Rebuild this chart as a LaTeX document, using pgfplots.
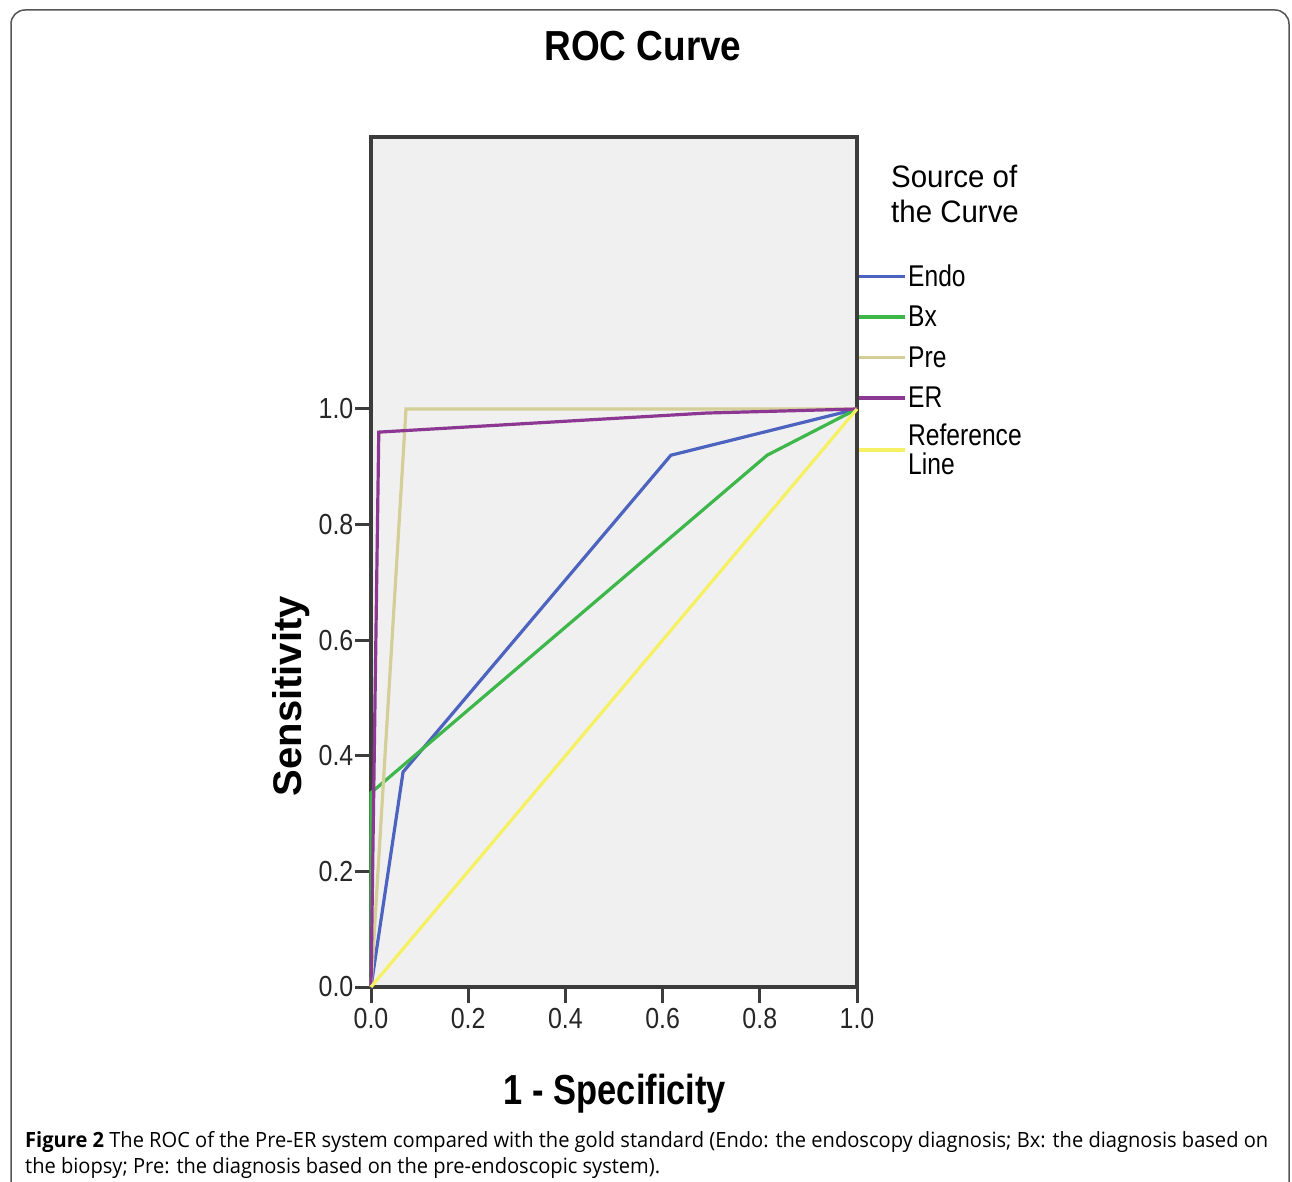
\documentclass[border=0pt]{standalone}
\usepackage{fontspec}
\setmainfont{Liberation Sans}
\newfontfamily\tickf[FakeStretch=0.86]{Liberation Sans}
\newfontfamily\titf[FakeStretch=0.88]{Liberation Sans}
\newfontfamily\xlf[FakeStretch=0.82]{Liberation Sans}
\newfontfamily\legf[FakeStretch=0.82]{Liberation Sans}
\newfontfamily\legtf[FakeStretch=0.95]{Liberation Sans}
\newfontfamily\capfont{Open Sans}
\usepackage{graphicx}
\usepackage{pgfplots}
\pgfplotsset{compat=1.18}

\definecolor{cEndo}{HTML}{4C63C0}
\definecolor{cBx}{HTML}{3DB64A}
\definecolor{cPre}{HTML}{D4CF98}
\definecolor{cER}{HTML}{8C3893}
\definecolor{cRef}{HTML}{F5F162}
\definecolor{axgray}{HTML}{3C3C3C}
\definecolor{framegray}{HTML}{555555}

\newsavebox\capA
\newsavebox\capB
\newlength\capw

\begin{document}
\sbox\capA{\capfont\fontsize{21}{25}\selectfont\textbf{Figure 2} The ROC of the Pre-ER system compared with the gold standard (Endo: the endoscopy diagnosis; Bx: the diagnosis based on}%
\sbox\capB{\capfont\fontsize{21}{25}\selectfont the biopsy; Pre: the diagnosis based on the pre-endoscopic system).}%
\setlength\capw{\wd\capA}%
\pgfmathsetmacro\capscale{1243/\capw}%
\begin{tikzpicture}[x=1pt,y=1pt]
\useasboundingbox (0,0) rectangle (1292,1181);
\draw[line width=1.5pt, framegray, rounded corners=14pt] (11,-10) -- (11,1171) -- (1289,1171) -- (1289,-10);

\begin{axis}[
  at={(371pt,194pt)}, anchor=south west,
  scale only axis, width=486pt, height=850pt,
  xmin=0, xmax=1, ymin=0, ymax=1.4706,
  clip=false,
  axis background/.style={fill=gray!12},
  axis line style={line width=3.2pt, axgray},
  xtick={0,0.2,0.4,0.6,0.8,1.0},
  ytick={0,0.2,0.4,0.6,0.8,1.0},
  xtick pos=bottom, ytick pos=left,
  tick align=outside,
  major tick length=16pt,
  every tick/.append style={line width=3pt, axgray},
  xtick style={line width=3pt, axgray},
  ytick style={line width=3pt, axgray},
  /pgf/number format/assume math mode=true,
  xticklabel={\pgfmathprintnumber[fixed,fixed zerofill,precision=1]{\tick}},
  yticklabel={\pgfmathprintnumber[fixed,fixed zerofill,precision=1]{\tick}},
  ticklabel style={font=\tickf\fontsize{29}{29}\selectfont, text=black!85},
  yticklabel style={inner sep=1.5pt},
  xticklabel style={inner sep=5pt},
  title={ROC Curve},
  title style={at={(axis description cs:0.5597,1.0835)}, anchor=base, inner sep=0pt,
    font=\titf\bfseries\fontsize{42}{42}\selectfont},
  xlabel={1 - Specificity},
  xlabel style={at={(axis description cs:0.502,-0.1388)}, anchor=base, inner sep=0pt,
    font=\xlf\bfseries\fontsize{42}{42}\selectfont},
  ylabel={Sensitivity},
  ylabel style={at={(axis description cs:-0.142,0.342)}, anchor=base, inner sep=0pt,
    font=\bfseries\fontsize{40}{40}\selectfont},
  legend cell align=left,
  legend style={at={(rel axis cs:1,0.853)}, anchor=north west,
    draw=none, fill=none, inner sep=0pt, outer sep=0pt,
    row sep=11.5pt, column sep=2pt,
    font=\legf\fontsize{30}{29}\selectfont,
    nodes={inner sep=0pt, minimum height=29pt, align=left}},
  legend image code/.code={\draw[#1] (0pt,0pt) -- (46pt,0pt);},
  every axis plot/.append style={line width=3.2pt},
]
\addplot[cEndo] coordinates {(0,0) (0.066,0.372) (0.617,0.920) (1,1)};
\addlegendentry{Endo}
\addplot[cBx] coordinates {(0,0) (0,0.336) (0.815,0.920) (1,1)};
\addlegendentry{Bx}
\addplot[cPre] coordinates {(0,0) (0.072,1.0) (1,1)};
\addlegendentry{Pre}
\addplot[cER] coordinates {(0,0) (0.016,0.960) (0.690,0.993) (1,1)};
\addlegendentry{ER}
\addplot[cRef] coordinates {(0,0) (1,1)};
\addlegendentry{Reference\\Line}
\end{axis}

\node[anchor=base west, inner sep=0pt, font=\legtf\fontsize{31}{35}\selectfont] at (891,993) {Source of};
\node[anchor=base west, inner sep=0pt, font=\legtf\fontsize{31}{35}\selectfont] at (891,958) {the Curve};

\node[anchor=base west, inner sep=0pt] at (25,34) {\scalebox{\capscale}[1]{\usebox\capA}};
\node[anchor=base west, inner sep=0pt] at (25,8) {\scalebox{\capscale}[1]{\usebox\capB}};
\end{tikzpicture}
\end{document}
